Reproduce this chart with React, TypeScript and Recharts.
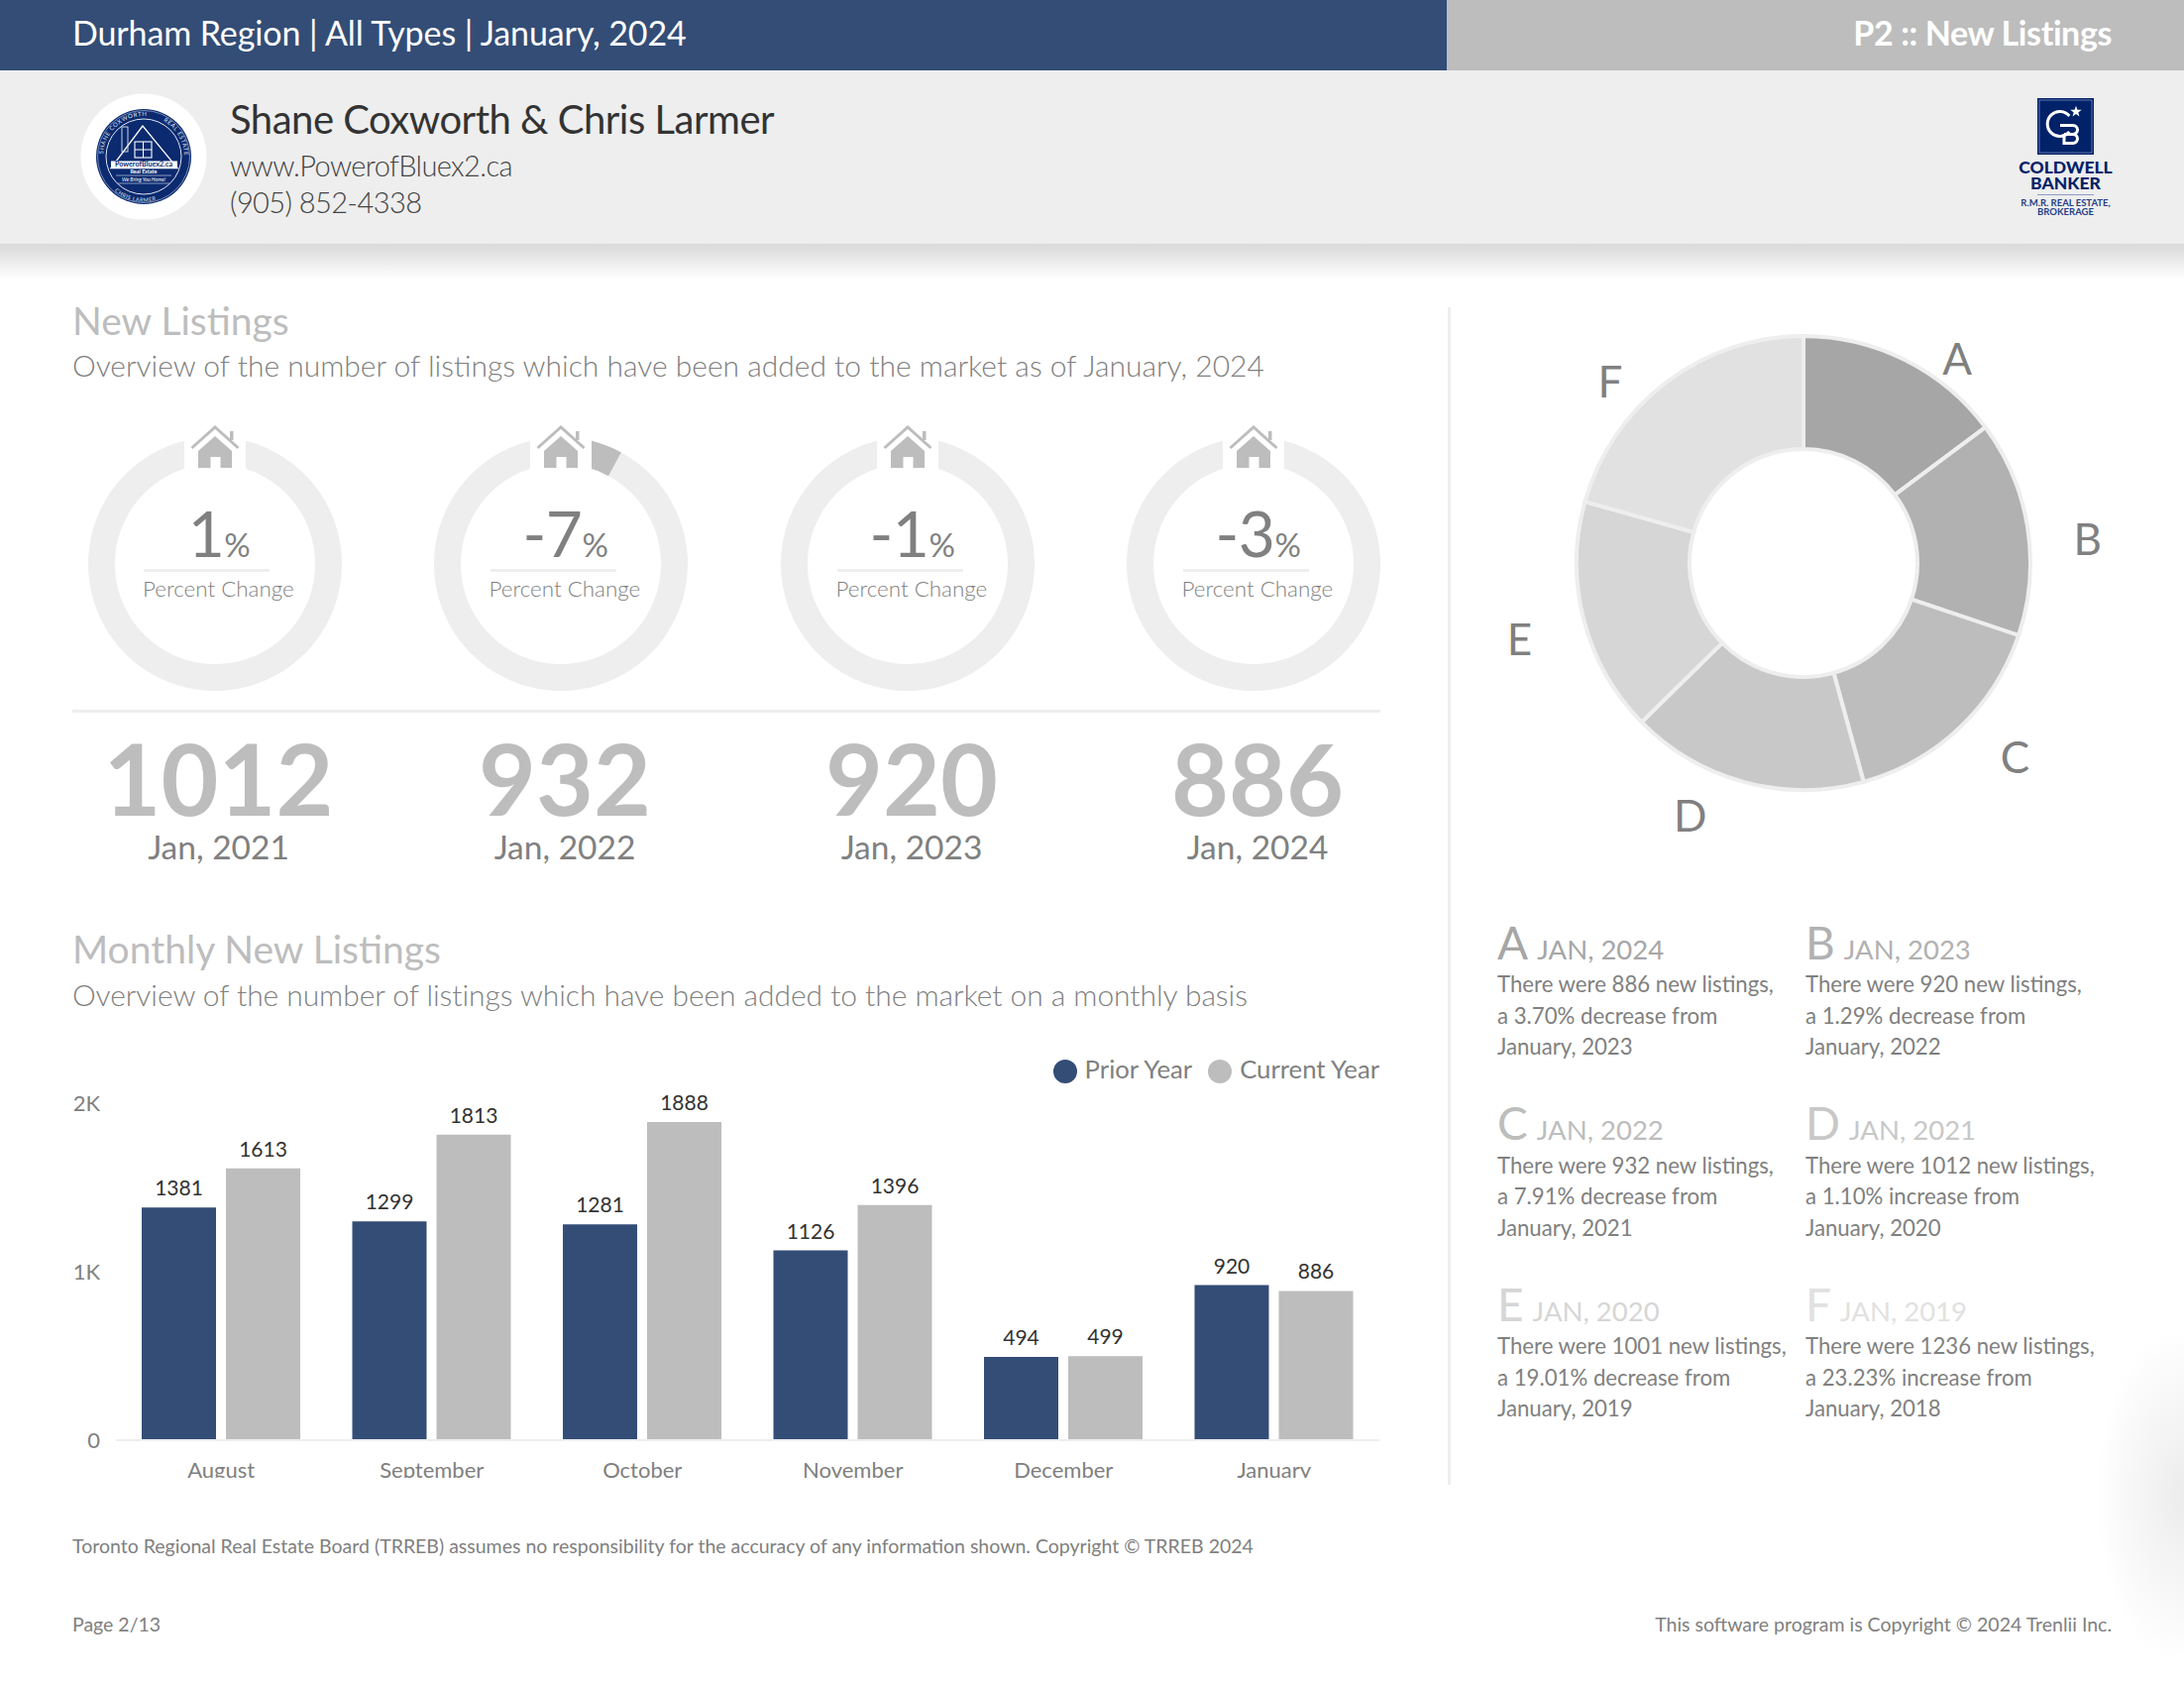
import React from "react";
import { BarChart, Bar, XAxis, YAxis, Legend, LabelList, PieChart, Pie, Cell } from "recharts";

const FONT = "Lato, 'Open Sans', sans-serif";
const NAVY = "#334d76";
const GREY = "#bdbdbd";
const PALE = "#eeeeee";
const TEXT = "#808080";

// monthly bars
const months = ["August", "September", "October", "November", "December", "January"];
const priorYear = [1381, 1299, 1281, 1126, 494, 920];
const currentYear = [1613, 1813, 1888, 1396, 499, 886];
const yTicks = [0, 1000, 2000];
const yTickLabels = ["0", "1K", "2K"];

// gauges + totals row
const gaugeChanges = [1.1, 7.91, 1.29, 3.7];
const gaugeLabels = ["1", "-7", "-1", "-3"];
const gaugeTotals = ["1012", "932", "920", "886"];
const gaugeYears = ["Jan, 2021", "Jan, 2022", "Jan, 2023", "Jan, 2024"];
const gaugeCentres = [216.5, 566, 916, 1265];

// big donut
const letters = ["A", "B", "C", "D", "E", "F"];
const donutValues = [886, 920, 932, 1012, 1001, 1236];
const donutColors = ["#a6a6a6", "#b1b1b1", "#bdbdbd", "#c8c8c8", "#d6d6d6", "#e1e1e1"];
const letterNudgeX = [34, 20, 28, -44, -25, -32];
const letterNudgeY = [34, 18, -1, -7, 9, 31];

// notes under the donut
const noteYears = ["JAN, 2024", "JAN, 2023", "JAN, 2022", "JAN, 2021", "JAN, 2020", "JAN, 2019"];
const noteLines = [
  ["There were 886 new listings,", "a 3.70% decrease from", "January, 2023"],
  ["There were 920 new listings,", "a 1.29% decrease from", "January, 2022"],
  ["There were 932 new listings,", "a 7.91% decrease from", "January, 2021"],
  ["There were 1012 new listings,", "a 1.10% increase from", "January, 2020"],
  ["There were 1001 new listings,", "a 19.01% decrease from", "January, 2019"],
  ["There were 1236 new listings,", "a 23.23% increase from", "January, 2018"],
];

const barRows = months.map((month, i) => ({ month, prior: priorYear[i], current: currentYear[i] }));
const donutRows = letters.map((name, i) => ({ name, value: donutValues[i] }));

const Txt = ({ x, y, size, color = TEXT, weight = 400, align = "left", spacing = 0, children }: any) => {
  const shift = align === "right" ? "-100%" : align === "center" ? "-50%" : "0";
  return (
    <div
      style={{
        position: "absolute",
        left: x,
        top: y,
        transform: `translate(${shift}, -50%)`,
        fontSize: size,
        fontWeight: weight,
        letterSpacing: spacing,
        color,
        lineHeight: 1,
        whiteSpace: "nowrap",
      }}
    >
      {children}
    </div>
  );
};

const Box = ({ x, y, w, h, bg }: any) => (
  <div style={{ position: "absolute", left: x, top: y, width: w, height: h, background: bg }} />
);

const Gauge = ({ index }: { index: number }) => {
  const cx = gaugeCentres[index];
  const rows = [{ value: gaugeChanges[index] }, { value: 100 - gaugeChanges[index] }];
  return (
    <>
      <div style={{ position: "absolute", left: cx - 150, top: 419 }}>
        <PieChart width={300} height={300}>
          <Pie
            data={rows}
            dataKey="value"
            cx="50%"
            cy="50%"
            innerRadius={101}
            outerRadius={128}
            startAngle={90}
            endAngle={-270}
            stroke="none"
            isAnimationActive={false}
          >
            <Cell fill={GREY} />
            <Cell fill={PALE} />
          </Pie>
        </PieChart>
      </div>
      {/* house sits in a white notch at 12 o'clock */}
      <svg style={{ position: "absolute", left: cx - 40, top: 425 }} width={80} height={60} viewBox="-40 -144 80 60">
        <rect x={-31} y={-144} width={62} height={60} fill="#fff" />
        <path d="M-23.5 -117 L0 -138 L23.5 -117" fill="none" stroke={GREY} strokeWidth={3} />
        <rect x={15} y={-134} width={3.5} height={9} fill={GREY} />
        <path d="M-17 -114 L0 -129 L17 -114 L17 -97 L5.5 -97 L5.5 -108 L-4.5 -108 L-4.5 -97 L-17 -97 Z" fill={GREY} />
      </svg>
      <div
        style={{
          position: "absolute",
          left: cx + 4.5,
          top: 538,
          transform: "translate(-50%, -50%)",
          color: TEXT,
          whiteSpace: "nowrap",
          lineHeight: 1,
          fontSize: 64,
          letterSpacing: -0.5,
        }}
      >
        {gaugeLabels[index]}
        <span style={{ fontSize: 33 }}>%</span>
      </div>
      <Box x={cx - 71.5} y={573.5} w={127} h={3} bg={PALE} />
      <Txt x={cx - 72.5} y={594} size={22.4} weight={300}>
        Percent Change
      </Txt>
      <Txt x={cx + 4} y={784} size={100} weight={700} color={GREY} align="center">
        {gaugeTotals[index]}
      </Txt>
      <Txt x={cx + 4} y={855} size={33.5} align="center">
        {gaugeYears[index]}
      </Txt>
    </>
  );
};

const Note = ({ index }: { index: number }) => {
  const x = index % 2 === 0 ? 1511 : 1822;
  const row = Math.floor(index / 2);
  const top = 956 + row * 182.5;
  return (
    <>
      <div
        style={{
          position: "absolute",
          left: x,
          top: top - 5.5,
          transform: "translateY(-50%)",
          color: donutColors[index],
          lineHeight: 1,
          whiteSpace: "nowrap",
          fontSize: 27.5,
        }}
      >
        <span style={{ fontSize: 46, marginRight: 9 }}>{letters[index]}</span>
        {noteYears[index]}
      </div>
      {noteLines[index].map((line, i) => (
        <Txt key={i} x={x} y={top + 37 + i * 31.7} size={22.2}>
          {line}
        </Txt>
      ))}
    </>
  );
};

const renderLetter = ({ cx, cy, midAngle, index }: any) => {
  const r = 270;
  const rad = (midAngle * Math.PI) / 180;
  return (
    <text
      x={cx + r * Math.cos(rad) + letterNudgeX[index]}
      y={cy - r * Math.sin(rad) + letterNudgeY[index]}
      textAnchor="middle"
      dominantBaseline="central"
      fontSize={44}
      fill={TEXT}
      fontFamily={FONT}
    >
      {letters[index]}
    </text>
  );
};

const BrokerLogo = () => (
  <svg style={{ position: "absolute", left: 80, top: 93 }} width={130} height={130} viewBox="-65 -65 130 130">
    <defs>
      <path id="ringTop" d="M-41 0 A41 41 0 0 1 41 0" />
      <path id="ringBottom" d="M-43 14 A45 45 0 0 0 43 14" />
    </defs>
    <circle r={63.5} fill="#fff" />
    <circle r={48} fill="#0b2a6f" />
    <circle r={46.5} fill="none" stroke="#9fb0d4" strokeWidth={0.7} />
    <circle r={38} fill="none" stroke="#dfe5f2" strokeWidth={1} />
    <text fontSize={6} fill="#dfe5f2" fontFamily={FONT} letterSpacing={0.6}>
      <textPath href="#ringTop" startOffset="2%">
        SHANE COXWORTH
      </textPath>
      <textPath href="#ringTop" startOffset="66%">
        REAL ESTATE
      </textPath>
    </text>
    <text fontSize={5.5} fill="#dfe5f2" fontFamily={FONT} letterSpacing={0.5}>
      <textPath href="#ringBottom" startOffset="22%">
        CHRIS LARMER
      </textPath>
    </text>
    <path d="M-1 -31 L-33 11.5 L34 11.5 Z" fill="none" stroke="#fff" strokeWidth={1.3} />
    <rect x={-9} y={-15} width={17} height={16} fill="none" stroke="#fff" strokeWidth={1.1} />
    <path d="M-0.5 -15 V1 M-9 -7 H8" stroke="#fff" strokeWidth={1} />
    <rect x={-22} y={-30} width={6} height={25} fill="none" stroke="#dfe5f2" strokeWidth={0.9} />
    <rect x={-33} y={4.5} width={67} height={7} fill="#fff" />
    <text x={0} y={10.3} textAnchor="middle" fontSize={7.2} fontWeight={700} fill="#0b2a6f" fontFamily={FONT}>
      PowerofBluex2.ca
    </text>
    <text x={0} y={17} textAnchor="middle" fontSize={5.5} fontWeight={700} fill="#fff" fontFamily={FONT}>
      Real Estate
    </text>
    <path d="M-28 19 H28 M-26 27 H26" stroke="#dfe5f2" strokeWidth={0.6} />
    <text x={0} y={25} textAnchor="middle" fontSize={5.2} fontStyle="italic" fill="#fff" fontFamily={FONT}>
      We Bring You Home!
    </text>
  </svg>
);

const CoyLogo = () => (
  <>
    <svg style={{ position: "absolute", left: 2056, top: 99 }} width={57} height={57} viewBox="0 0 57 57">
      <rect width={57} height={57} fill="#012169" />
      <rect x={2} y={2} width={53} height={53} fill="none" stroke="#8e9cc4" strokeWidth={0.7} />
      <path d="M32.3 18 A12.5 12.5 0 1 0 32.3 34" fill="none" stroke="#fff" strokeWidth={3} />
      <path
        d="M23 27.5 H36 a4.5 4.5 0 0 1 0 9 H27 M36 36.5 a4.5 4.5 0 0 1 0 9 H27 V36"
        fill="none"
        stroke="#fff"
        strokeWidth={3}
      />
      <path
        d="M39 7.7 L40.4 11.8 L44.7 11.8 L41.3 14.4 L42.5 18.6 L39 16.1 L35.5 18.6 L36.7 14.4 L33.3 11.8 L37.6 11.8 Z"
        fill="#fff"
      />
    </svg>
    <Txt x={2084.5} y={169} size={17.5} weight={900} color="#012169" align="center">
      COLDWELL
    </Txt>
    <Txt x={2084.5} y={185} size={17.5} weight={900} color="#012169" align="center">
      BANKER
    </Txt>
    <Box x={2056} y={196} w={57} h={1} bg="#8e9cc4" />
    <Txt x={2084.5} y={205} size={9.5} weight={700} color="#273f85" align="center">
      R.M.R. REAL ESTATE,
    </Txt>
    <Txt x={2084.5} y={213.5} size={9.5} weight={700} color="#273f85" align="center">
      BROKERAGE
    </Txt>
  </>
);

export default function App() {
  return (
    <div
      style={{
        position: "absolute",
        left: 0,
        top: 0,
        width: 2204,
        height: 1700,
        overflow: "hidden",
        background: "#fff",
        fontFamily: FONT,
      }}
    >
      {/* top bars */}
      <Box x={0} y={0} w={1460} h={71} bg={NAVY} />
      <Box x={1460} y={0} w={744} h={71} bg={GREY} />
      <Box x={0} y={71} w={2204} h={175} bg={PALE} />
      <Box x={0} y={246} w={2204} h={36} bg="linear-gradient(#d9d9d9, #ffffff)" />
      <Box x={2104} y={1340} w={100} h={360} bg="radial-gradient(ellipse 90px 170px at 100% 47%, #ececec, #ffffff)" />
      <Txt x={73} y={33} size={34} color="#fff" spacing={-0.1}>
        Durham Region | All Types | January, 2024
      </Txt>
      <Txt x={2131} y={33} size={34} weight={700} color="#fff" align="right" spacing={-0.4}>
        P2 :: New Listings
      </Txt>
      <BrokerLogo />
      <Txt x={232} y={120} size={40} color="#333" spacing={-0.5}>
        Shane Coxworth &amp; Chris Larmer
      </Txt>
      <Txt x={232} y={166} size={29} weight={300} color="#444" spacing={-0.6}>
        www.PowerofBluex2.ca
      </Txt>
      <Txt x={232} y={203} size={29} weight={300} color="#444" spacing={-0.6}>
        (905) 852-4338
      </Txt>
      <CoyLogo />

      {/* left column */}
      <Txt x={73} y={323} size={39} color={GREY}>
        New Listings
      </Txt>
      <Txt x={73} y={368} size={30} weight={300}>
        Overview of the number of listings which have been added to the market as of January, 2024
      </Txt>
      {gaugeCentres.map((_, i) => (
        <Gauge key={i} index={i} />
      ))}
      <Box x={73} y={716} w={1320} h={3} bg={PALE} />

      <Txt x={73} y={957} size={39} color={GREY}>
        Monthly New Listings
      </Txt>
      <Txt x={73} y={1003} size={30} weight={300} spacing={-0.06}>
        Overview of the number of listings which have been added to the market on a monthly basis
      </Txt>

      <div style={{ position: "absolute", left: 0, top: 1040 }}>
        <BarChart
          width={1392}
          height={451}
          data={barRows}
          margin={{ top: 73, right: 0, bottom: 0, left: 0 }}
          barSize={75}
          barGap={10}
        >
          <XAxis
            dataKey="month"
            height={38}
            interval={0}
            tickLine={false}
            axisLine={{ stroke: PALE, strokeWidth: 2 }}
            tick={{ fontSize: 22, fill: TEXT, fontFamily: FONT }}
            tickMargin={16}
          />
          <YAxis
            width={117}
            domain={[0, 2000]}
            ticks={yTicks}
            tickFormatter={(v: number) => yTickLabels[yTicks.indexOf(v)]}
            axisLine={false}
            tickLine={false}
            tick={{ fontSize: 22, fill: TEXT, fontFamily: FONT }}
            tickMargin={10}
          />
          <Legend
            layout="horizontal"
            verticalAlign="middle"
            align="center"
            iconType="circle"
            iconSize={24}
            itemSorter={null}
            wrapperStyle={{ top: 23, right: -16, width: "auto", left: "auto", fontSize: 25.7 }}
            formatter={(value: string) => (
              <span style={{ color: TEXT, marginLeft: 4, marginRight: 6 }}>{value}</span>
            )}
          />
          <Bar dataKey="prior" name="Prior Year" fill={NAVY} isAnimationActive={false}>
            <LabelList dataKey="prior" position="top" offset={12} fontSize={21} fill="#333" fontFamily={FONT} />
          </Bar>
          <Bar dataKey="current" name="Current Year" fill={GREY} isAnimationActive={false}>
            <LabelList dataKey="current" position="top" offset={12} fontSize={21} fill="#333" fontFamily={FONT} />
          </Bar>
        </BarChart>
      </div>

      <Box x={1461} y={310} w={3} h={1188} bg={PALE} />

      {/* right column */}
      <div style={{ position: "absolute", left: 1470, top: 258 }}>
        <PieChart width={700} height={620}>
          <Pie
            data={donutRows}
            dataKey="value"
            cx="50%"
            cy="50%"
            innerRadius={115}
            outerRadius={229}
            startAngle={90}
            endAngle={-270}
            stroke={PALE}
            strokeWidth={4}
            label={renderLetter}
            labelLine={false}
            isAnimationActive={false}
          >
            {donutColors.map((c) => (
              <Cell key={c} fill={c} stroke={PALE} strokeWidth={4} />
            ))}
          </Pie>
        </PieChart>
      </div>
      {letters.map((_, i) => (
        <Note key={i} index={i} />
      ))}

      {/* footer */}
      <Txt x={73} y={1560} size={19.5}>
        Toronto Regional Real Estate Board (TRREB) assumes no responsibility for the accuracy of any information shown. Copyright © TRREB 2024
      </Txt>
      <Txt x={73} y={1638.5} size={19.5}>
        Page 2/13
      </Txt>
      <Txt x={2131} y={1638.5} size={19.5} align="right">
        This software program is Copyright © 2024 Trenlii Inc.
      </Txt>
    </div>
  );
}
